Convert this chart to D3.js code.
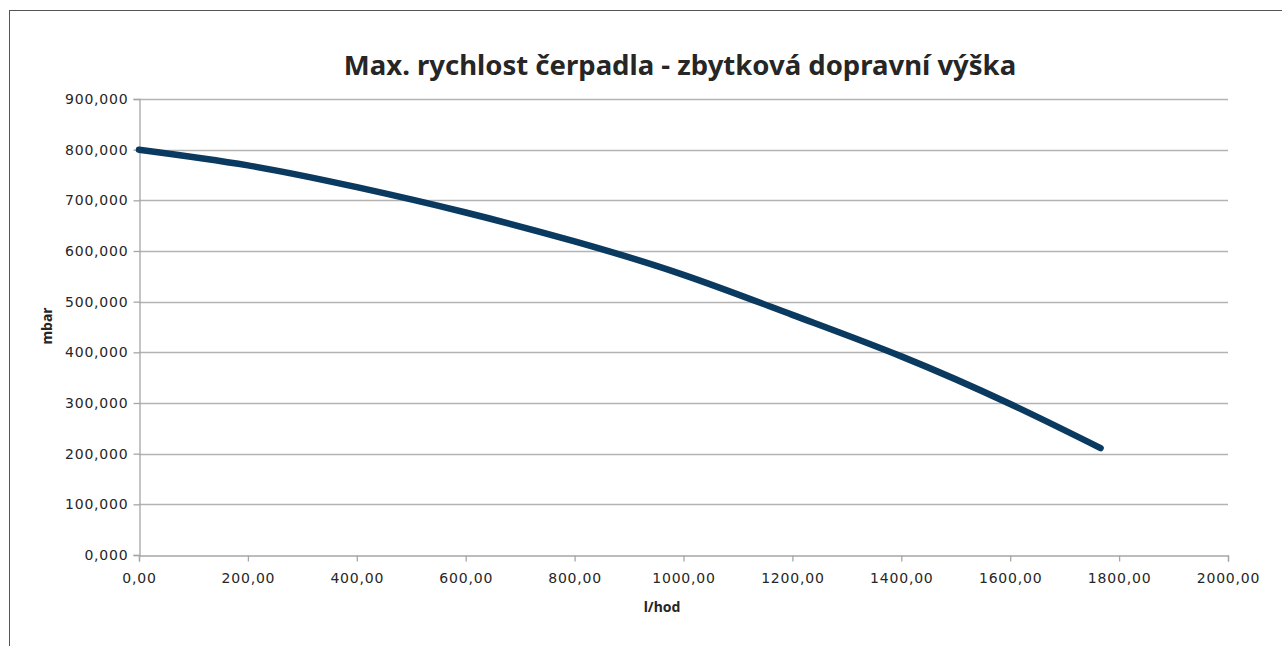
<!DOCTYPE html>
<html>
<head>
<meta charset="utf-8">
<script src="https://cdn.jsdelivr.net/npm/d3@7"></script>
<style>
  body { margin: 0; background: #fff; }
  svg text { font-family: "Noto Sans", "Open Sans", sans-serif; fill: #262626; }
  .tick text { font-family: "DejaVu Sans", sans-serif; font-size: 14px; letter-spacing: 0.8px; }
</style>
</head>
<body>
<svg id="chart" width="1282" height="646"></svg>
<script>
// values (flow l/hod -> head mbar)
var flow = [0, 200, 400, 600, 800, 1000, 1200, 1400, 1600, 1766];
var head = [800, 769, 726, 676, 619, 553, 474, 392, 298, 211];
var yTicks = [0, 100, 200, 300, 400, 500, 600, 700, 800, 900];
var xTicks = [0, 200, 400, 600, 800, 1000, 1200, 1400, 1600, 1800, 2000];
var title = "Max. rychlost čerpadla - zbytková dopravní výška",
    xTitle = "l/hod",
    yTitle = "mbar";

var svg = d3.select("#chart"),
    plotL = 139, plotR = 1228, plotT = 99, plotB = 555;

var cz = d3.formatLocale({decimal: ",", thousands: " ", grouping: [3], currency: ["", " Kč"]});

var x = d3.scaleLinear().domain([0, 2000]).range([plotL, plotR]);
var y = d3.scaleLinear().domain([0, 900]).range([plotB, plotT]);

// outer frame (right / bottom edges fall outside the window)
svg.append("rect").attr("x", 9.5).attr("y", 10.5).attr("width", 1300).attr("height", 700)
  .attr("fill", "none").attr("stroke", "#555").attr("stroke-width", 1);

// gridlines
svg.append("g").selectAll("line").data(yTicks.slice(1)).enter().append("line")
  .attr("x1", plotL).attr("x2", plotR)
  .attr("y1", function (d) { return Math.round(y(d)) + 0.5 })
  .attr("y2", function (d) { return Math.round(y(d)) + 0.5 })
  .attr("stroke", "#b3b3b3").attr("stroke-width", 1.3);

var yAxis = svg.append("g").attr("transform", "translate(" + (plotL + 0.5) + ",0)")
  .call(d3.axisLeft(y).tickValues(yTicks).tickFormat(cz.format(".3f")).tickSize(6).tickPadding(5));
var xAxis = svg.append("g").attr("transform", "translate(0," + (plotB + 0.5) + ")")
  .call(d3.axisBottom(x).tickValues(xTicks).tickFormat(cz.format(".2f")).tickSize(6).tickPadding(12));
[yAxis, xAxis].forEach(function (a) {
  a.select(".domain").attr("stroke", "#a6a6a6").attr("stroke-width", 1.3);
  a.selectAll(".tick line").attr("stroke", "#a6a6a6").attr("stroke-width", 1.3);
  a.selectAll(".tick text").attr("fill", "#262626");
});

var pts = flow.map(function (q, i) { return [q, head[i]] });
svg.append("path").datum(pts)
  .attr("d", d3.line().x(function (d) { return x(d[0]) }).y(function (d) { return y(d[1]) }).curve(d3.curveNatural))
  .attr("fill", "none").attr("stroke", "#0a3a5f").attr("stroke-width", 6.5)
  .attr("stroke-linecap", "round");

svg.append("text").attr("x", 680).attr("y", 75).attr("text-anchor", "middle")
  .style("font-size", "27.5px").style("font-weight", "bold").style("font-stretch", "condensed")
  .attr("fill", "#1a1a1a").text(title);
svg.append("text").attr("x", 662).attr("y", 612).attr("text-anchor", "middle")
  .style("font-size", "14px").style("font-weight", "bold").text(xTitle);
svg.append("text").attr("transform", "translate(52,326) rotate(-90)").attr("text-anchor", "middle")
  .style("font-size", "14px").style("font-weight", "bold").text(yTitle);
</script>
</body>
</html>
